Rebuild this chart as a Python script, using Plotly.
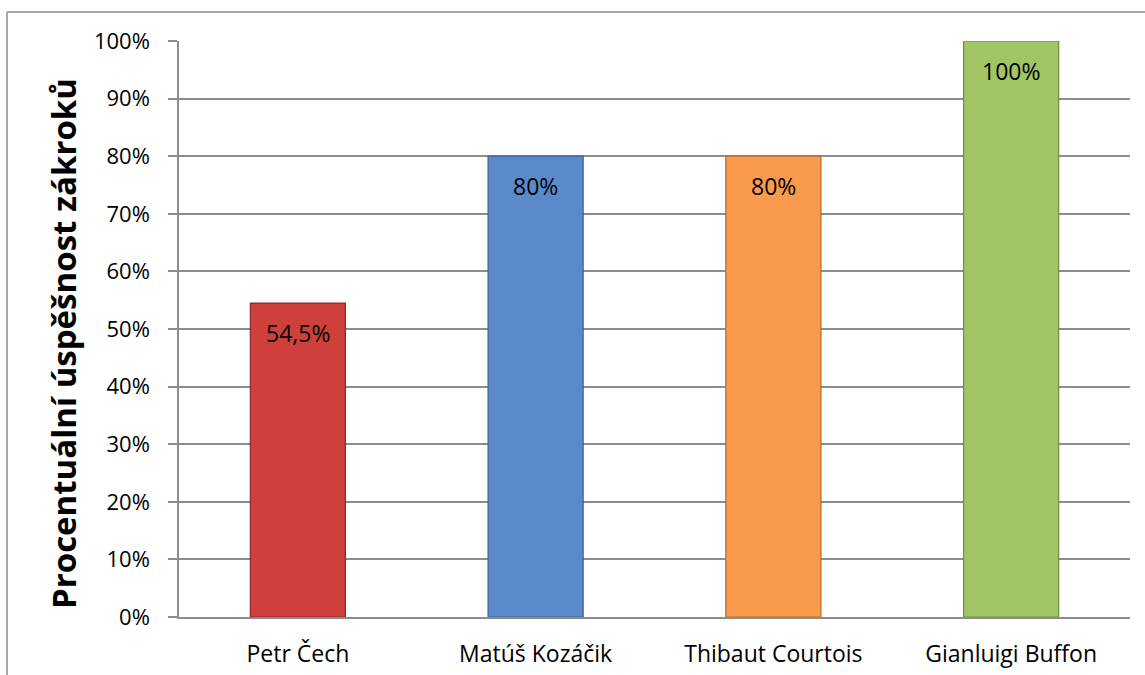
import plotly.graph_objects as go

# Goalkeeper save percentages
players = ["Petr Čech", "Matúš Kozáčik", "Thibaut Courtois", "Gianluigi Buffon"]
save_pct = [54.5, 80, 80, 100]
value_labels = ["54,5%", "80%", "80%", "100%"]
bar_colors = ["#CF403C", "#5A8ACB", "#F99A4C", "#A2C564"]
edge_colors = ["#8E2724", "#3A6397", "#B86A2A", "#6F8D3C"]
y_ticks = [0, 10, 20, 30, 40, 50, 60, 70, 80, 90, 100]
y_tick_labels = [f"{v}%" for v in y_ticks]
y_title = "Procentuální úspěšnost zákroků"

FONT = "Open Sans"

fig = go.Figure(
    go.Bar(
        x=players,
        y=save_pct,
        marker=dict(color=bar_colors, line=dict(color=edge_colors, width=1.2)),
        cliponaxis=False,
    )
)

# Value labels just below each bar's top
for name, val, lab in zip(players, save_pct, value_labels):
    fig.add_annotation(
        x=name, y=val, text=lab, showarrow=False,
        yanchor="top", yshift=-12,
        font=dict(family=FONT, size=23, color="#000000"),
    )

# Vertical axis title
fig.add_annotation(
    xref="paper", yref="paper", x=-116 / 951, y=(617 - 344) / 576,
    text=f"<b>{y_title}</b>", textangle=-90, showarrow=False,
    xanchor="center", yanchor="middle",
    font=dict(family=FONT, size=33, color="#000000"),
)

fig.update_layout(
    width=1145,
    height=675,
    margin=dict(l=179, r=15, t=41, b=58),
    paper_bgcolor="#FFFFFF",
    plot_bgcolor="#FFFFFF",
    bargap=0.6,
    showlegend=False,
    font=dict(family=FONT, color="#000000"),
)

fig.update_xaxes(
    automargin=False,
    showgrid=False,
    showline=True,
    linecolor="#8C8C8C",
    linewidth=1.5,
    ticks="",
    tickfont=dict(family=FONT, size=23, color="#000000"),
    ticklabelstandoff=16,
)

fig.update_yaxes(
    automargin=False,
    range=[0, 100],
    tickvals=y_ticks,
    ticktext=y_tick_labels,
    showgrid=True,
    gridcolor="#8C8C8C",
    gridwidth=1.5,
    showline=True,
    linecolor="#8C8C8C",
    linewidth=1.5,
    ticks="outside",
    ticklen=9,
    tickcolor="#8C8C8C",
    tickwidth=1.5,
    tickfont=dict(family=FONT, size=22, color="#000000"),
    ticklabelstandoff=14,
    zeroline=False,
)

# Chart frame (top and left edges lie inside the page)
fig.add_shape(type="line", xref="paper", yref="paper",
              x0=-172 / 951, x1=1.05, y0=(675 - 58 - 12) / 576, y1=(675 - 58 - 12) / 576,
              line=dict(color="#8C8C8C", width=1.5))
fig.add_shape(type="line", xref="paper", yref="paper",
              x0=-172 / 951, x1=-172 / 951, y0=-0.2, y1=(675 - 58 - 12) / 576,
              line=dict(color="#8C8C8C", width=1.5))

fig.write_html("out.html")
